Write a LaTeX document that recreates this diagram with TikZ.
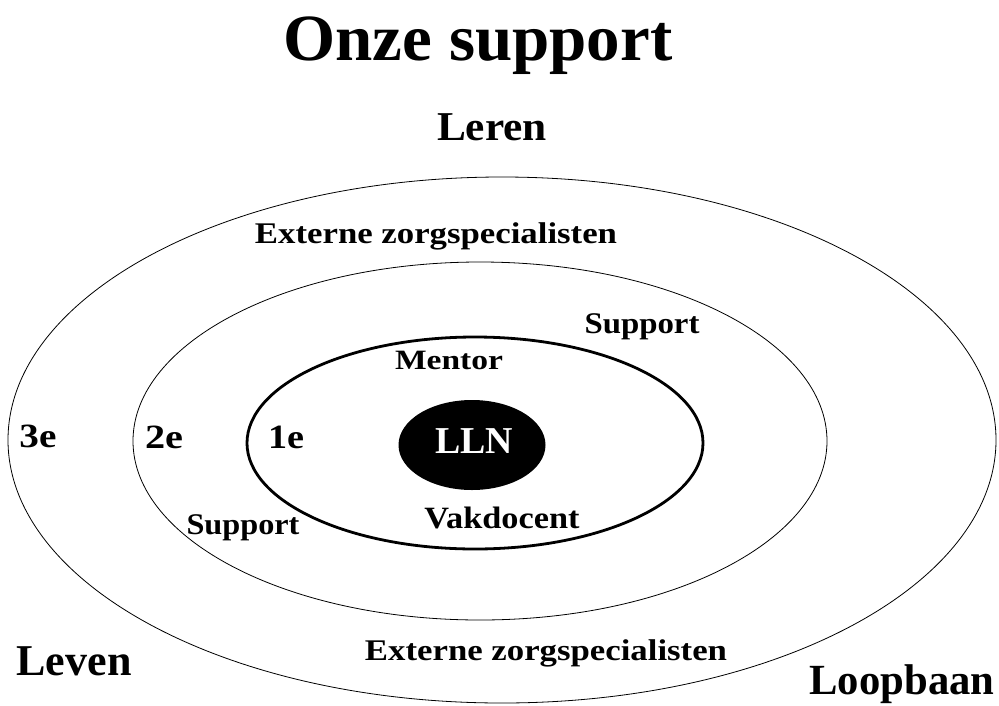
\documentclass[tikz,border=0pt]{standalone}
\usepackage{fontspec}
\setmainfont{Liberation Serif}
\usepackage{graphicx}
\usetikzlibrary{shapes.geometric}
\newcommand{\wfit}[2]{\resizebox{#1pt}{\height}{#2}}
\tikzset{
  lbl/.style={anchor=base, inner sep=0pt, font=\bfseries},
  ring/.style={draw=black, line width=0.8pt},
  thickring/.style={draw=black, line width=2.8pt}
}
\begin{document}
\begin{tikzpicture}[x=1pt,y=-1pt]
\useasboundingbox (0,0) rectangle (999,705);
% rings
\draw[ring] (502,440) ellipse [x radius=494pt, y radius=263pt];
\draw[ring] (480,441) ellipse [x radius=347pt, y radius=179pt];
\draw[thickring] (475,443) ellipse [x radius=228pt, y radius=106pt];
% centre
\node[ellipse, fill=black, minimum width=147pt, minimum height=90pt, inner sep=0pt] (lln) at (472,445) {};
\node[lbl, text=white] (llntxt) at (474,453) {\fontsize{38}{40}\selectfont\wfit{78}{LLN}};
% texts
\node[lbl] (title) at (478,60) {\fontsize{66}{70}\selectfont\wfit{389}{Onze support}};
\node[lbl] (leren) at (492,140) {\fontsize{41}{44}\selectfont\wfit{110}{Leren}};
\node[lbl] (ext1) at (436,243) {\fontsize{30}{32}\selectfont\wfit{362}{Externe zorgspecialisten}};
\node[lbl] (sup1) at (642,333) {\fontsize{30}{32}\selectfont\wfit{115}{Support}};
\node[lbl] (mentor) at (449,369) {\fontsize{28}{30}\selectfont\wfit{108}{Mentor}};
\node[lbl] (e3) at (38,447) {\fontsize{34}{36}\selectfont\wfit{37}{3e}};
\node[lbl] (e2) at (164,448) {\fontsize{34}{36}\selectfont\wfit{38}{2e}};
\node[lbl] (e1) at (286,448) {\fontsize{34}{36}\selectfont\wfit{36}{1e}};
\node[lbl] (sup2) at (243,534) {\fontsize{30}{32}\selectfont\wfit{113}{Support}};
\node[lbl] (vak) at (502,528) {\fontsize{31}{33}\selectfont\wfit{155}{Vakdocent}};
\node[lbl] (ext2) at (546,660) {\fontsize{30}{32}\selectfont\wfit{362}{Externe zorgspecialisten}};
\node[lbl] (leven) at (74,675) {\fontsize{44}{46}\selectfont\wfit{115}{Leven}};
\node[lbl] (loop) at (902,694) {\fontsize{43}{45}\selectfont\wfit{185}{Loopbaan}};
\end{tikzpicture}
\end{document}
